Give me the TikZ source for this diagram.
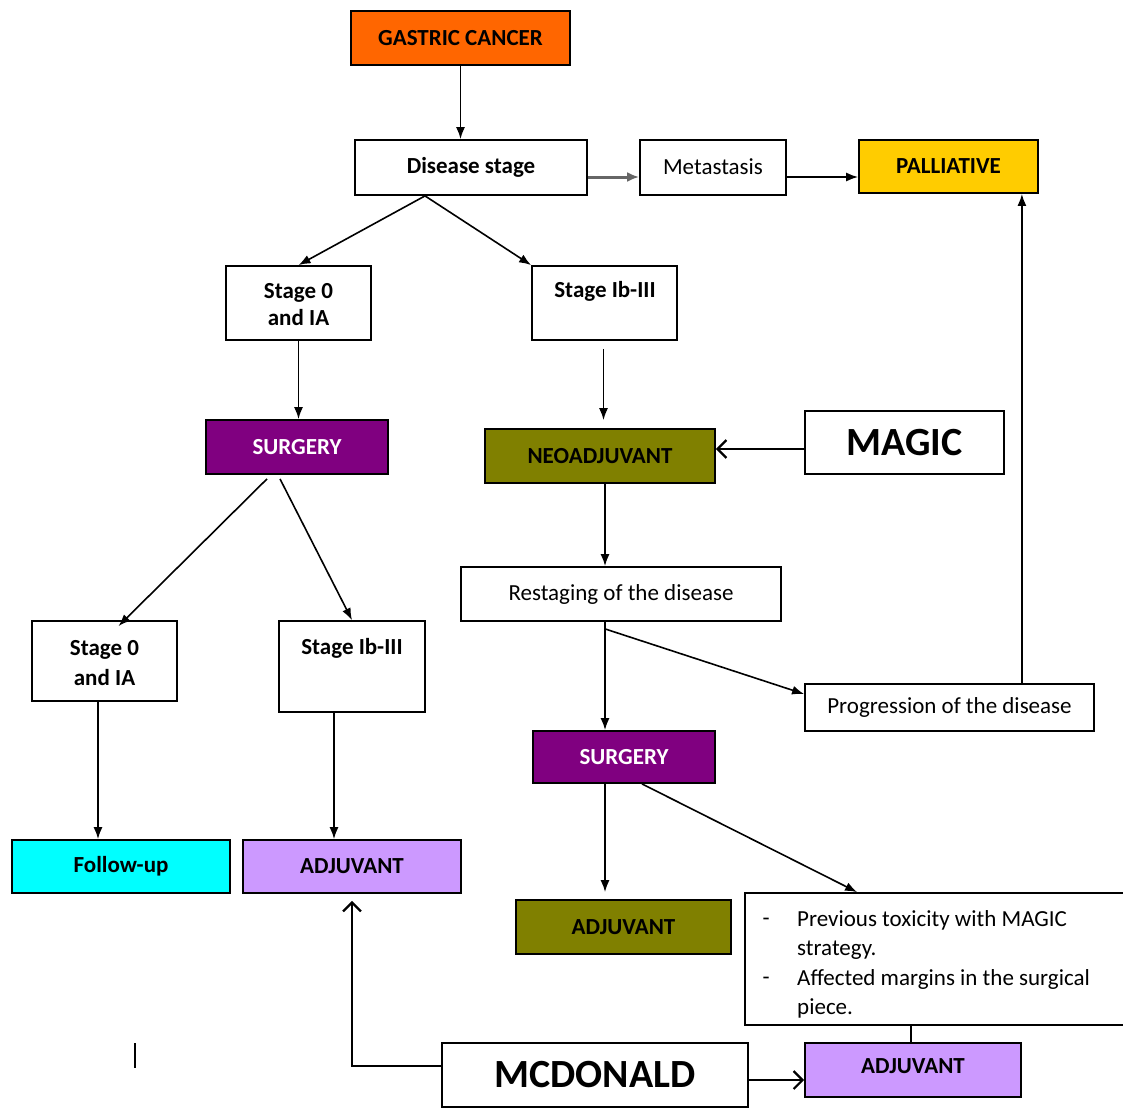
\documentclass[tikz,border=0pt]{standalone}
\usepackage{fontspec}
\setmainfont{Carlito}
\usetikzlibrary{arrows.meta,calc}
\definecolor{cOrange}{HTML}{FF6600}
\definecolor{cYellow}{HTML}{FFCC00}
\definecolor{cPurple}{HTML}{800080}
\definecolor{cOlive}{HTML}{808000}
\definecolor{cCyan}{HTML}{00FFFF}
\definecolor{cLilac}{HTML}{CC99FF}
\begin{document}
\begin{tikzpicture}[x=1pt,y=-1pt,
  box/.style={draw=black,line width=1.8pt,rectangle,inner sep=0pt,fill=white,
    font=\fontsize{23}{28}\selectfont\bfseries,align=center},
  plain/.style={font=\fontsize{23}{29}\selectfont},
  big/.style={font=\fontsize{40}{44}\selectfont\bfseries},
  conn/.style={line width=1.6pt,-{Latex[length=12pt,width=9pt]}},
  openarr/.style={line width=1.8pt,-{Straight Barb[length=9pt,width=18pt,line width=2.2pt]}}]
\useasboundingbox (0,0) rectangle (1123,1108);
\clip (0,0) rectangle (1123,1108);
% boxes
\node[box,fill=cOrange,minimum width=219pt,minimum height=54pt] (gc) at (460.5,38) {GASTRIC CANCER};
\node[box,minimum width=232pt,minimum height=55pt] (ds) at (471,167.5) {Disease stage};
\node[box,plain,minimum width=146pt,minimum height=55pt] (met) at (713,167.5) {\raisebox{1.5pt}{Metastasis}};
\node[box,fill=cYellow,minimum width=179pt,minimum height=53pt] (pal) at (948.5,166.5) {PALLIATIVE};
\node[box,minimum width=145pt,minimum height=74pt] (s0a) at (298.5,303) {};
\node[font=\fontsize{23}{27}\selectfont\bfseries,align=center] (s0at) at (298.5,305) {Stage 0\\and IA};
\node[box,minimum width=145pt,minimum height=74pt] (sIa) at (604.5,303) {};
\node[font=\fontsize{23}{29}\selectfont\bfseries] (sIat) at (605,291) {Stage Ib-III};
\node[box,fill=cPurple,text=white,minimum width=182pt,minimum height=54pt] (surg1) at (297,447) {SURGERY};
\node[box,fill=cOlive,minimum width=230pt,minimum height=54pt] (neo) at (600,456) {NEOADJUVANT};
\node[box,big,minimum width=199pt,minimum height=63pt] (magic) at (904.5,442.5) {MAGIC};
\node[box,plain,minimum width=320pt,minimum height=54pt] (rest) at (621,594) {Restaging of the disease};
\node[box,plain,minimum width=289pt,minimum height=47pt] (prog) at (949.5,707.5) {Progression of the disease};
\node[box,minimum width=145pt,minimum height=80pt] (s0b) at (104.5,661) {};
\node[font=\fontsize{23}{30}\selectfont\bfseries,align=center] (s0bt) at (104.5,663) {Stage 0\\and IA};
\node[box,minimum width=146pt,minimum height=91pt] (sIb) at (352,666.5) {};
\node[font=\fontsize{23}{29}\selectfont\bfseries] (sIbt) at (352,648) {Stage Ib-III};
\node[box,fill=cPurple,text=white,minimum width=182pt,minimum height=52pt] (surg2) at (624,757) {SURGERY};
\node[box,fill=cCyan,minimum width=218pt,minimum height=53pt] (fu) at (121,866.5) {Follow-up};
\node[box,fill=cLilac,minimum width=218pt,minimum height=53pt] (adj1) at (352,866.5) {ADJUVANT};
\node[box,fill=cOlive,minimum width=215pt,minimum height=54pt] (adj2) at (623.5,927) {ADJUVANT};
\node[box,minimum width=385pt,minimum height=132pt] (bul) at (937.5,959) {};
\node[plain,anchor=west] (d1) at (759,922) {-};
\node[plain,anchor=west] (d2) at (759,981) {-};
\node[plain,anchor=north west,align=left,inner sep=0pt,font=\fontsize{23}{29.5}\selectfont] (bt) at (797,910)
  {Previous toxicity with MAGIC\\strategy.\\Affected margins in the surgical\\piece.};
\node[box,big,minimum width=306pt,minimum height=64pt] (mcd) at (595,1075) {MCDONALD};
\node[box,fill=cLilac,minimum width=216pt,minimum height=54pt] (adj3) at (913,1070) {};
\node[font=\fontsize{23}{29}\selectfont\bfseries] (adj3t) at (913,1066) {ADJUVANT};
% connectors
\draw[conn] (gc.south) -- (gc.south |- ds.north);
\draw[line width=3pt,draw=black!60,-{Latex[length=12pt,width=10pt]}] (ds.east |- 0,177) -- (met.west |- 0,177);
\draw[conn] (met.east |- 0,177) -- (pal.west |- 0,177);
\coordinate (dsb) at ($(ds.south)+(-46,0)$);
\draw[conn] (dsb) -- (s0a.north);
\draw[conn] (dsb) -- (sIa.north west);
\draw[conn] (s0a.south) -- (s0a.south |- surg1.north);
\coordinate (sIas) at ($(sIa.south)+(-1,8)$);
\draw[conn] (sIas) -- ($(sIas |- neo.north)+(0,-8)$);
\coordinate (mgw) at ($(magic.west)+(0,6.5)$);
\draw[openarr] (mgw) -- (mgw -| neo.east);
\coordinate (neos) at ($(neo.south)+(5,0)$);
\draw[conn] (neos) -- (neos |- rest.north);
\coordinate (s1a) at ($(surg1.south)+(-30,4)$);
\coordinate (s1b) at ($(surg1.south)+(-17,4)$);
\draw[conn] (s1a) -- ($(s0b.north)+(14,6)$);
\draw[conn] (s1b) -- (sIb.north);
\coordinate (rs) at ($(rest.south)+(-16,0)$);
\draw[conn] (rs) -- (rs |- surg2.north);
\draw[conn] ($(rs)+(0,7)$) -- ($(prog.west)+(0,-13.5)$);
\coordinate (pn) at ($(prog.north east)+(-73,0)$);
\draw[conn] (pn) -- (pn |- pal.south);
\coordinate (s0bs) at ($(s0b.south)+(-6.5,0)$);
\draw[conn] (s0bs) -- (s0bs |- fu.north);
\coordinate (sIbs) at ($(sIb.south)+(-18,0)$);
\draw[conn] (sIbs) -- (sIbs |- adj1.north);
\coordinate (s2s) at ($(surg2.south)+(-19,0)$);
\draw[conn] (s2s) -- ($(s2s |- adj2.north)+(0,-7)$);
\draw[conn] ($(surg2.south)+(18,0)$) -- ($(bul.north west)+(113,0)$);
\draw[line width=1.6pt] ($(bul.south west)+(167,0)$) -- ($(adj3.north west)+(107,0)$);
\coordinate (mw) at ($(mcd.west)+(0,-9)$);
\draw[openarr] (mw) -| ($(adj1.south)+(0,7)$);
\coordinate (me) at ($(mcd.east)+(0,5)$);
\draw[openarr] (me) -- (me -| adj3.west);
% stray mark
\draw[line width=1.2pt] (135,1043) -- (135,1068);
\end{tikzpicture}
\end{document}
